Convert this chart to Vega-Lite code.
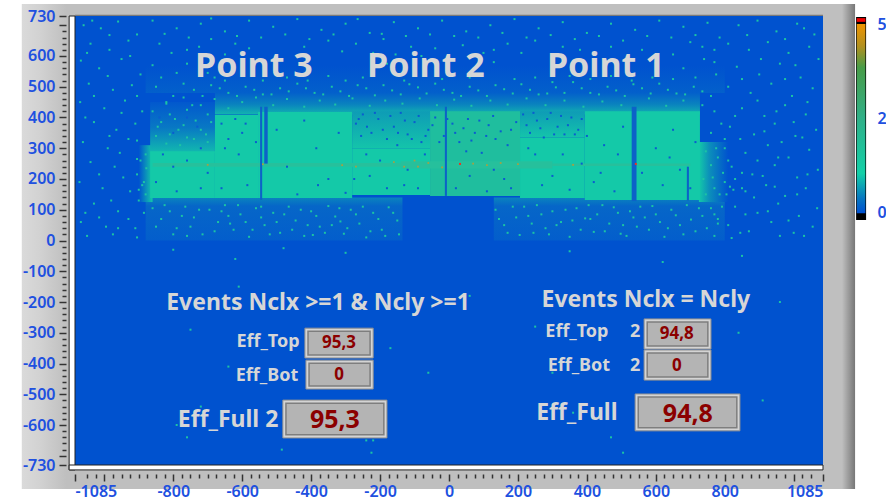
{"$schema":"https://vega.github.io/schema/vega-lite/v6.json","autosize":"none","width":748,"height":449,"padding":{"left":75,"top":16,"right":63,"bottom":35},"background":"#ffffff","view":{"stroke":null},
"encoding":{
"x":{"field":"x","type":"quantitative","title":null,"scale":{"domain":[-1085,1085],"nice":false,"zero":false},"axis":{"zindex":1,"grid":false,"domain":false,"offset":9,"labelFont":"Noto Sans","labelFontWeight":600,"labelFontSize":16,"labelColor":"#2050E0","labelPadding":2,"labelOverlap":false,"tickColor":"#333333","tickWidth":1.5,"tickSize":{"condition":{"test":"datum.value % 200 == 0 || abs(datum.value) == 1085","value":7},"value":4},"values":[-1085,-1050,-1025,-1000,-975,-950,-925,-900,-875,-850,-825,-800,-775,-750,-725,-700,-675,-650,-625,-600,-575,-550,-525,-500,-475,-450,-425,-400,-375,-350,-325,-300,-275,-250,-225,-200,-175,-150,-125,-100,-75,-50,-25,0,25,50,75,100,125,150,175,200,225,250,275,300,325,350,375,400,425,450,475,500,525,550,575,600,625,650,675,700,725,750,775,800,825,850,875,900,925,950,975,1000,1025,1050,1085],"labelExpr":"((datum.value % 200 == 0 && abs(datum.value) != 1000) || abs(datum.value) == 1085) ? datum.value : ''"}},
"y":{"field":"y","type":"quantitative","title":null,"scale":{"domain":[-730,730],"nice":false,"zero":false},"axis":{"zindex":1,"grid":false,"domain":false,"offset":9,"labelFont":"Noto Sans","labelFontWeight":600,"labelFontSize":16,"labelColor":"#2050E0","labelPadding":4,"labelOverlap":false,"tickColor":"#333333","tickWidth":1.5,"tickSize":{"condition":{"test":"datum.value % 100 == 0 || abs(datum.value) == 730","value":7},"value":4},"values":[-730,-700,-680,-660,-640,-620,-600,-580,-560,-540,-520,-500,-480,-460,-440,-420,-400,-380,-360,-340,-320,-300,-280,-260,-240,-220,-200,-180,-160,-140,-120,-100,-80,-60,-40,-20,0,20,40,60,80,100,120,140,160,180,200,220,240,260,280,300,320,340,360,380,400,420,440,460,480,500,520,540,560,580,600,620,640,660,680,700,730],"labelExpr":"((datum.value % 100 == 0 && abs(datum.value) != 700) || abs(datum.value) == 730) ? datum.value : ''"}}},
"layer":[
{"data":{"values":[{"x":-1239,"x2":1178,"y":769,"y2":-808}]},"mark":{"type":"rect","color":"#BFBFBF"},"encoding":{"x2":{"field":"x2"},"y2":{"field":"y2"}}},
{"data":{"values":[{"x":-1239,"x2":-1110,"y":769,"y2":-808}]},"mark":{"type":"rect","color":{"gradient":"linear","x1":0,"y1":0,"x2":1,"y2":0,"stops":[{"offset":0,"color":"#DADADA"},{"offset":0.4,"color":"#D2D2D2"},{"offset":1,"color":"#BFBFBF"}]}},"encoding":{"x2":{"field":"x2"},"y2":{"field":"y2"}}},
{"data":{"values":[{"x":1140,"x2":1178,"y":769,"y2":-808}]},"mark":{"type":"rect","color":{"gradient":"linear","x1":0,"y1":0,"x2":1,"y2":0,"stops":[{"offset":0,"color":"#BFBFBF"},{"offset":1,"color":"#777777"}]}},"encoding":{"x2":{"field":"x2"},"y2":{"field":"y2"}}},
{"data":{"values":[{"x":-1085,"x2":1085,"y":734,"y2":730}]},"mark":{"type":"rect","color":"#7A7A7A"},"encoding":{"x2":{"field":"x2"},"y2":{"field":"y2"}}},
{"data":{"values":[{"x":-1085,"x2":1085,"y":730,"y2":-730}]},"mark":{"type":"rect","color":"#0052CF"},"encoding":{"x2":{"field":"x2"},"y2":{"field":"y2"}}},
{"data":{"values":[{"x":-880,"x2":800,"y":570,"y2":480}]},"mark":{"type":"rect","color":{"gradient":"linear","x1":0,"y1":0,"x2":0,"y2":1,"stops":[{"offset":0,"color":"#0052CF"},{"offset":1,"color":"#0360CB"}]}},"encoding":{"x2":{"field":"x2"},"y2":{"field":"y2"}}},
{"data":{"values":[{"x":-880,"x2":-135,"y":140,"y2":0},{"x":130,"x2":800,"y":140,"y2":0}]},"mark":{"type":"rect","color":{"gradient":"linear","x1":0,"y1":0,"x2":0,"y2":1,"stops":[{"offset":0,"color":"#0A84BE"},{"offset":0.2,"color":"#0666C8"},{"offset":1,"color":"#035ECC"}]}},"encoding":{"x2":{"field":"x2"},"y2":{"field":"y2"}}},
{"data":{"values":[{"x":-900,"x2":-860,"y":310,"y2":125}]},"mark":{"type":"rect","color":{"gradient":"linear","x1":0,"y1":0,"x2":1,"y2":0,"stops":[{"offset":0,"color":"#0052CF"},{"offset":1,"color":"#14C9A8"}]}},"encoding":{"x2":{"field":"x2"},"y2":{"field":"y2"}}},
{"data":{"values":[{"x":725,"x2":810,"y":320,"y2":125}]},"mark":{"type":"rect","color":{"gradient":"linear","x1":0,"y1":0,"x2":1,"y2":0,"stops":[{"offset":0,"color":"#14C9A8"},{"offset":0.35,"color":"#0C90BA"},{"offset":1,"color":"#0052CF"}]}},"encoding":{"x2":{"field":"x2"},"y2":{"field":"y2"}}},
{"data":{"values":[{"x":-867,"x2":-679,"y":450,"y2":285}]},"mark":{"type":"rect","color":{"gradient":"linear","x1":0,"y1":0,"x2":0,"y2":1,"stops":[{"offset":0,"color":"#0258CE"},{"offset":0.5,"color":"#0878C4"},{"offset":1,"color":"#12BAAE"}]}},"encoding":{"x2":{"field":"x2"},"y2":{"field":"y2"}}},
{"data":{"values":[{"x":-679,"x2":728,"y":480,"y2":410}]},"mark":{"type":"rect","color":{"gradient":"linear","x1":0,"y1":0,"x2":0,"y2":1,"stops":[{"offset":0,"color":"#0360CB"},{"offset":0.55,"color":"#0A84BE"},{"offset":1,"color":"#12B4AF"}]}},"encoding":{"x2":{"field":"x2"},"y2":{"field":"y2"}}},
{"data":{"values":[{"x":-867,"x2":-679,"y":290,"y2":138},{"x":-679,"x2":-554,"y":408,"y2":138},{"x":-554,"x2":-281,"y":418,"y2":138},{"x":-281,"x2":-55,"y":300,"y2":148},{"x":206,"x2":394,"y":335,"y2":138},{"x":394,"x2":728,"y":420,"y2":132}]},"mark":{"type":"rect","color":"#14C9A8"},"encoding":{"x2":{"field":"x2"},"y2":{"field":"y2"}}},
{"data":{"values":[{"x":-281,"x2":-55,"y":420,"y2":300},{"x":206,"x2":394,"y":420,"y2":335}]},"mark":{"type":"rect","color":{"gradient":"linear","x1":0,"y1":0,"x2":0,"y2":1,"stops":[{"offset":0,"color":"#0E9CB6"},{"offset":1,"color":"#14C4AA"}]}},"encoding":{"x2":{"field":"x2"},"y2":{"field":"y2"}}},
{"data":{"values":[{"x":-55,"x2":206,"y":420,"y2":145}]},"mark":{"type":"rect","color":"#1FBE9E"},"encoding":{"x2":{"field":"x2"},"y2":{"field":"y2"}}},
{"data":{"values":[{"x":-860,"x2":-140,"y":252,"y2":240},{"x":-140,"x2":300,"y":258,"y2":234},{"x":300,"x2":700,"y":250,"y2":242}]},"mark":{"type":"rect","color":"#26C09C"},"encoding":{"x2":{"field":"x2"},"y2":{"field":"y2"}}},
{"data":{"values":[{"x":-1060,"y":700},{"x":-1010,"y":690},{"x":-960,"y":712},{"x":-905,"y":670},{"x":-1040,"y":640},{"x":-985,"y":620},{"x":-930,"y":650},{"x":-1068,"y":585},{"x":-1015,"y":560},{"x":-950,"y":590},{"x":-895,"y":540},{"x":-1045,"y":510},{"x":-975,"y":490},{"x":-920,"y":505},{"x":-1070,"y":450},{"x":-1000,"y":430},{"x":-940,"y":455},{"x":-890,"y":420},{"x":-1030,"y":385},{"x":-965,"y":360},{"x":-910,"y":380},{"x":-1062,"y":320},{"x":-990,"y":300},{"x":-930,"y":330},{"x":-1040,"y":255},{"x":-970,"y":240},{"x":-905,"y":265},{"x":-1072,"y":190},{"x":-1005,"y":170},{"x":-945,"y":205},{"x":-890,"y":180},{"x":-1030,"y":120},{"x":-960,"y":95},{"x":-900,"y":130},{"x":-1068,"y":60},{"x":-995,"y":45},{"x":-930,"y":70},{"x":-1050,"y":15},{"x":-975,"y":20},{"x":-905,"y":10},
{"x":-1035,"y":715},{"x":-985,"y":668},{"x":-925,"y":600},{"x":-1050,"y":610},{"x":-990,"y":535},{"x":-905,"y":470},{"x":-1030,"y":470},{"x":-950,"y":415},{"x":-1055,"y":400},{"x":-985,"y":340},{"x":-905,"y":325},{"x":-955,"y":285},{"x":-1015,"y":215},{"x":-925,"y":160},{"x":-980,"y":130},{"x":-1055,"y":90},{"x":-910,"y":40},{"x":-1015,"y":75},{"x":-960,"y":40},{"x":-885,"y":90},
{"x":840,"y":700},{"x":895,"y":715},{"x":950,"y":680},{"x":1010,"y":705},{"x":1060,"y":670},{"x":810,"y":640},{"x":870,"y":620},{"x":925,"y":645},{"x":985,"y":610},{"x":1045,"y":630},{"x":1072,"y":590},{"x":835,"y":565},{"x":900,"y":540},{"x":960,"y":575},{"x":1020,"y":530},{"x":810,"y":500},{"x":875,"y":480},{"x":935,"y":510},{"x":995,"y":470},{"x":1055,"y":495},{"x":850,"y":430},{"x":915,"y":405},{"x":975,"y":440},{"x":1035,"y":410},{"x":815,"y":370},{"x":885,"y":345},{"x":945,"y":380},{"x":1005,"y":340},{"x":1065,"y":360},{"x":800,"y":300},{"x":860,"y":285},{"x":925,"y":310},{"x":985,"y":270},{"x":1045,"y":295},{"x":820,"y":240},{"x":880,"y":215},{"x":945,"y":245},{"x":1010,"y":205},{"x":1070,"y":230},{"x":800,"y":190},{"x":860,"y":160},{"x":920,"y":180},{"x":975,"y":145},{"x":1035,"y":170},{"x":830,"y":110},{"x":895,"y":90},{"x":955,"y":120},{"x":1015,"y":80},{"x":1068,"y":105},{"x":810,"y":50},{"x":870,"y":30},{"x":935,"y":60},{"x":1000,"y":25},{"x":1055,"y":45},{"x":770,"y":15},{"x":820,"y":8},
{"x":865,"y":668},{"x":975,"y":655},{"x":1030,"y":690},{"x":905,"y":590},{"x":1005,"y":570},{"x":850,"y":525},{"x":975,"y":525},{"x":1040,"y":450},{"x":895,"y":455},{"x":830,"y":405},{"x":950,"y":420},{"x":1000,"y":385},{"x":915,"y":355},{"x":845,"y":330},{"x":965,"y":320},{"x":1025,"y":335},{"x":895,"y":260},{"x":955,"y":270},{"x":850,"y":220},{"x":1040,"y":215},{"x":910,"y":210},{"x":825,"y":165},{"x":885,"y":140},{"x":1010,"y":150},{"x":945,"y":175},{"x":860,"y":85},{"x":925,"y":95},{"x":985,"y":65},{"x":780,"y":70},{"x":845,"y":25},{"x":960,"y":15},{"x":1030,"y":15},
{"x":-860,"y":715},{"x":-790,"y":690},{"x":-720,"y":705},{"x":-650,"y":680},{"x":-580,"y":715},{"x":-510,"y":695},{"x":-440,"y":720},{"x":-370,"y":685},{"x":-300,"y":705},{"x":-230,"y":675},{"x":-160,"y":710},{"x":-90,"y":690},{"x":-20,"y":715},{"x":50,"y":680},{"x":120,"y":700},{"x":190,"y":720},{"x":260,"y":690},{"x":330,"y":710},{"x":400,"y":675},{"x":470,"y":705},{"x":540,"y":685},{"x":610,"y":715},{"x":680,"y":695},{"x":750,"y":708},
{"x":-825,"y":672},{"x":-755,"y":660},{"x":-690,"y":722},{"x":-615,"y":665},{"x":-545,"y":660},{"x":-475,"y":670},{"x":-405,"y":655},{"x":-335,"y":670},{"x":-265,"y":720},{"x":-195,"y":672},{"x":-125,"y":665},{"x":-55,"y":670},{"x":15,"y":665},{"x":85,"y":660},{"x":155,"y":675},{"x":225,"y":660},{"x":295,"y":668},{"x":365,"y":655},{"x":435,"y":665},{"x":505,"y":650},{"x":575,"y":665},{"x":645,"y":660},{"x":715,"y":668},{"x":785,"y":660},
{"x":-840,"y":640},{"x":-760,"y":620},{"x":-690,"y":655},{"x":-620,"y":640},{"x":-350,"y":650},{"x":-270,"y":640},{"x":-190,"y":655},{"x":-110,"y":630},{"x":170,"y":640},{"x":250,"y":650},{"x":330,"y":630},{"x":700,"y":645},{"x":770,"y":620},{"x":-860,"y":570},{"x":-790,"y":545},{"x":-720,"y":585},{"x":-680,"y":530},{"x":-300,"y":520},{"x":-220,"y":610},{"x":-130,"y":520},{"x":100,"y":610},{"x":190,"y":525},{"x":300,"y":515},{"x":680,"y":560},{"x":740,"y":590},{"x":775,"y":540},
{"x":-805,"y":610},{"x":-725,"y":630},{"x":-650,"y":605},{"x":-580,"y":625},{"x":-420,"y":630},{"x":-310,"y":615},{"x":-155,"y":605},{"x":-40,"y":625},{"x":40,"y":635},{"x":130,"y":620},{"x":210,"y":610},{"x":380,"y":620},{"x":470,"y":630},{"x":560,"y":620},{"x":650,"y":605},{"x":735,"y":630},{"x":-835,"y":530},{"x":-760,"y":575},{"x":-700,"y":545},{"x":-650,"y":520},{"x":-600,"y":535},{"x":-540,"y":520},{"x":-470,"y":530},{"x":-410,"y":520},{"x":-350,"y":535},{"x":-250,"y":530},{"x":-180,"y":575},{"x":-80,"y":600},{"x":-20,"y":525},{"x":60,"y":530},{"x":130,"y":580},{"x":250,"y":530},{"x":350,"y":535},{"x":410,"y":525},{"x":470,"y":535},{"x":530,"y":520},{"x":590,"y":530},{"x":650,"y":525},{"x":715,"y":530},{"x":770,"y":580},
{"x":-850,"y":500},{"x":-800,"y":470},{"x":-740,"y":490},{"x":-690,"y":505},{"x":-640,"y":480},{"x":-590,"y":500},{"x":-540,"y":475},{"x":-490,"y":495},{"x":-440,"y":510},{"x":-390,"y":480},{"x":-340,"y":500},{"x":-290,"y":470},{"x":-240,"y":495},{"x":-190,"y":505},{"x":-140,"y":475},{"x":-90,"y":498},{"x":-40,"y":510},{"x":10,"y":480},{"x":60,"y":500},{"x":110,"y":470},{"x":160,"y":492},{"x":210,"y":508},{"x":260,"y":475},{"x":310,"y":498},{"x":360,"y":515},{"x":410,"y":480},{"x":460,"y":500},{"x":510,"y":470},{"x":560,"y":495},{"x":610,"y":510},{"x":660,"y":478},{"x":710,"y":500},{"x":760,"y":470},
{"x":-770,"y":510},{"x":-715,"y":470},{"x":-665,"y":495},{"x":-615,"y":470},{"x":-565,"y":490},{"x":-515,"y":475},{"x":-465,"y":485},{"x":-415,"y":495},{"x":-365,"y":475},{"x":-315,"y":485},{"x":-265,"y":505},{"x":-215,"y":472},{"x":-165,"y":488},{"x":-115,"y":508},{"x":-65,"y":478},{"x":-15,"y":490},{"x":35,"y":470},{"x":85,"y":488},{"x":135,"y":505},{"x":185,"y":478},{"x":235,"y":490},{"x":285,"y":478},{"x":335,"y":480},{"x":385,"y":495},{"x":435,"y":475},{"x":485,"y":488},{"x":535,"y":508},{"x":585,"y":478},{"x":635,"y":490},{"x":685,"y":475},{"x":735,"y":485},
{"x":-820,"y":450},{"x":-770,"y":465},{"x":-720,"y":440},{"x":-680,"y":460},{"x":-640,"y":430},{"x":-600,"y":450},{"x":-560,"y":465},{"x":-510,"y":440},{"x":-470,"y":460},{"x":-420,"y":435},{"x":-375,"y":455},{"x":-330,"y":442},{"x":-280,"y":462},{"x":-230,"y":438},{"x":-185,"y":455},{"x":-135,"y":445},{"x":-85,"y":462},{"x":-35,"y":440},{"x":15,"y":458},{"x":65,"y":438},{"x":120,"y":455},{"x":170,"y":442},{"x":225,"y":462},{"x":280,"y":440},{"x":335,"y":455},{"x":390,"y":435},{"x":445,"y":452},{"x":500,"y":440},{"x":580,"y":462},{"x":630,"y":438},{"x":680,"y":455},{"x":735,"y":440},{"x":770,"y":420},{"x":790,"y":380},{"x":760,"y":350},{"x":800,"y":330},{"x":775,"y":300},{"x":810,"y":260},{"x":830,"y":200},{"x":805,"y":150},{"x":850,"y":170},
{"x":-860,"y":105},{"x":-835,"y":70},{"x":-810,"y":95},{"x":-790,"y":40},{"x":-765,"y":110},{"x":-740,"y":75},{"x":-715,"y":20},{"x":-695,"y":100},{"x":-670,"y":60},{"x":-650,"y":115},{"x":-625,"y":35},{"x":-605,"y":85},{"x":-580,"y":12},{"x":-560,"y":105},{"x":-535,"y":50},{"x":-510,"y":90},{"x":-490,"y":25},{"x":-465,"y":110},{"x":-445,"y":65},{"x":-420,"y":15},{"x":-400,"y":95},{"x":-375,"y":45},{"x":-350,"y":112},{"x":-330,"y":78},{"x":-305,"y":22},{"x":-285,"y":100},{"x":-260,"y":55},{"x":-240,"y":10},{"x":-220,"y":90},{"x":-195,"y":35},{"x":-175,"y":108},{"x":-150,"y":65},{"x":-145,"y":20},{"x":-760,"y":15},{"x":-545,"y":75},{"x":-395,"y":18},{"x":-315,"y":62},{"x":-640,"y":80},
{"x":-850,"y":45},{"x":-825,"y":115},{"x":-800,"y":20},{"x":-775,"y":80},{"x":-750,"y":45},{"x":-725,"y":100},{"x":-680,"y":30},{"x":-660,"y":95},{"x":-635,"y":55},{"x":-612,"y":115},{"x":-590,"y":60},{"x":-570,"y":35},{"x":-545,"y":110},{"x":-520,"y":20},{"x":-500,"y":60},{"x":-478,"y":85},{"x":-455,"y":35},{"x":-430,"y":100},{"x":-410,"y":50},{"x":-385,"y":80},{"x":-360,"y":25},{"x":-340,"y":50},{"x":-318,"y":105},{"x":-295,"y":40},{"x":-270,"y":85},{"x":-250,"y":110},{"x":-228,"y":30},{"x":-205,"y":70},{"x":-185,"y":15},{"x":-162,"y":90},
{"x":135,"y":100},{"x":160,"y":50},{"x":185,"y":110},{"x":205,"y":18},{"x":230,"y":80},{"x":255,"y":115},{"x":280,"y":40},{"x":300,"y":95},{"x":325,"y":60},{"x":350,"y":12},{"x":370,"y":105},{"x":395,"y":72},{"x":420,"y":28},{"x":445,"y":115},{"x":465,"y":55},{"x":490,"y":90},{"x":515,"y":15},{"x":535,"y":75},{"x":555,"y":110},{"x":580,"y":35},{"x":600,"y":85},{"x":625,"y":12},{"x":645,"y":100},{"x":670,"y":50},{"x":690,"y":115},{"x":715,"y":30},{"x":735,"y":80},{"x":760,"y":105},{"x":780,"y":55},{"x":245,"y":25},{"x":410,"y":70},{"x":505,"y":50},
{"x":145,"y":70},{"x":170,"y":25},{"x":195,"y":75},{"x":218,"y":110},{"x":240,"y":55},{"x":268,"y":85},{"x":290,"y":20},{"x":312,"y":50},{"x":338,"y":100},{"x":358,"y":65},{"x":382,"y":35},{"x":405,"y":115},{"x":430,"y":85},{"x":452,"y":30},{"x":478,"y":108},{"x":498,"y":22},{"x":525,"y":95},{"x":545,"y":45},{"x":568,"y":75},{"x":590,"y":112},{"x":612,"y":60},{"x":635,"y":40},{"x":658,"y":82},{"x":680,"y":20},{"x":702,"y":68},{"x":725,"y":105},{"x":748,"y":40},{"x":770,"y":85},{"x":792,"y":110},
{"x":-860,"y":420},{"x":-835,"y":385},{"x":-810,"y":410},{"x":-785,"y":360},{"x":-760,"y":425},{"x":-735,"y":390},{"x":-705,"y":345},{"x":-850,"y":340},{"x":-820,"y":315},{"x":-780,"y":310},{"x":-740,"y":330},{"x":-700,"y":410},{"x":-880,"y":280},{"x":-885,"y":190},{"x":-878,"y":235},{"x":-880,"y":150},{"x":745,"y":290},{"x":760,"y":245},{"x":738,"y":200},{"x":770,"y":170},{"x":745,"y":150},
{"x":-845,"y":370},{"x":-820,"y":445},{"x":-795,"y":395},{"x":-770,"y":375},{"x":-745,"y":440},{"x":-720,"y":360},{"x":-690,"y":385},{"x":-810,"y":345},{"x":-760,"y":335},{"x":-700,"y":320},{"x":-895,"y":260},{"x":-905,"y":215},{"x":-900,"y":165},{"x":780,"y":270},{"x":795,"y":220},{"x":765,"y":205},{"x":785,"y":150},{"x":815,"y":175},
{"x":-800,"y":-30},{"x":-620,"y":-60},{"x":-480,"y":-25},{"x":-300,"y":-40},{"x":350,"y":-35},{"x":620,"y":-70},{"x":850,"y":-50},{"x":-690,"y":-190},{"x":-750,"y":-290},{"x":-640,"y":-410},{"x":-790,"y":-600},{"x":-720,"y":-540},{"x":-760,"y":-640},{"x":-485,"y":-680},{"x":-240,"y":-650},{"x":-225,"y":-690},{"x":-220,"y":-650},{"x":-170,"y":-350},{"x":-100,"y":-200},{"x":-60,"y":-430},{"x":60,"y":-180},{"x":250,"y":-280},{"x":300,"y":-430},{"x":360,"y":-560},{"x":470,"y":-640},{"x":505,"y":-690},{"x":840,"y":-300},{"x":910,"y":-520},{"x":-610,"y":-150},{"x":-480,"y":-170},{"x":960,"y":-200}]},
"mark":{"type":"square","size":4,"color":"#1CC4A4","opacity":1}},
{"data":{"values":[{"x":-850,"y":190},{"x":-790,"y":160},{"x":-760,"y":260},{"x":-700,"y":220},{"x":-660,"y":170},{"x":-640,"y":330},{"x":-610,"y":280},{"x":-590,"y":380},{"x":-585,"y":180},{"x":-500,"y":360},{"x":-470,"y":240},{"x":-440,"y":150},{"x":-420,"y":390},{"x":-385,"y":300},{"x":-350,"y":200},{"x":-320,"y":350},{"x":-300,"y":155},{"x":-255,"y":340},{"x":-230,"y":210},{"x":-200,"y":260},{"x":-180,"y":170},{"x":-150,"y":310},{"x":-120,"y":230},{"x":-90,"y":170},{"x":-70,"y":280},
{"x":-270,"y":380},{"x":-250,"y":410},{"x":-225,"y":350},{"x":-205,"y":395},{"x":-180,"y":330},{"x":-160,"y":370},{"x":-140,"y":415},{"x":-120,"y":345},{"x":-100,"y":385},{"x":-80,"y":320},{"x":-60,"y":360},{"x":-40,"y":400},{"x":-15,"y":340},{"x":10,"y":380},{"x":30,"y":320},{"x":55,"y":395},{"x":75,"y":350},{"x":95,"y":285},{"x":115,"y":375},{"x":135,"y":330},{"x":160,"y":200},{"x":180,"y":360},{"x":215,"y":410},{"x":235,"y":350},{"x":255,"y":390},{"x":275,"y":335},{"x":295,"y":415},{"x":315,"y":370},{"x":335,"y":345},{"x":355,"y":400},{"x":375,"y":360},{"x":20,"y":170},{"x":60,"y":210},{"x":110,"y":160},
{"x":-262,"y":395},{"x":-238,"y":370},{"x":-215,"y":415},{"x":-192,"y":360},{"x":-170,"y":405},{"x":-148,"y":350},{"x":-128,"y":390},{"x":-108,"y":330},{"x":-88,"y":405},{"x":-68,"y":340},{"x":-48,"y":375},{"x":-28,"y":320},{"x":-5,"y":395},{"x":18,"y":350},{"x":42,"y":365},{"x":65,"y":325},{"x":88,"y":390},{"x":108,"y":340},{"x":128,"y":405},{"x":150,"y":355},{"x":170,"y":310},{"x":195,"y":385},{"x":225,"y":375},{"x":245,"y":415},{"x":265,"y":365},{"x":285,"y":395},{"x":305,"y":345},{"x":325,"y":405},{"x":345,"y":375},{"x":365,"y":345},{"x":385,"y":395},
{"x":250,"y":280},{"x":300,"y":210},{"x":350,"y":165},{"x":385,"y":250},{"x":420,"y":190},{"x":450,"y":310},{"x":480,"y":160},{"x":505,"y":370},{"x":600,"y":300},{"x":620,"y":180},{"x":650,"y":360},{"x":670,"y":230},{"x":700,"y":170},{"x":715,"y":320},{"x":-830,"y":280},{"x":-720,"y":300},{"x":-660,"y":380},{"x":-620,"y":395},{"x":-760,"y":400},{"x":-800,"y":350},{"x":-840,"y":400},{"x":-730,"y":370},
{"x":-600,"y":350},{"x":-650,"y":300},{"x":-560,"y":320},{"x":-380,"y":180},{"x":-240,"y":280},{"x":-275,"y":200},{"x":-130,"y":180},{"x":50,"y":290},{"x":130,"y":230},{"x":180,"y":170},{"x":230,"y":300},{"x":270,"y":180},{"x":330,"y":280},{"x":400,"y":340},{"x":440,"y":220},{"x":490,"y":280},{"x":560,"y":220},{"x":640,"y":270},{"x":-800,"y":240},{"x":-720,"y":170}]},
"mark":{"type":"square","size":4,"color":"#0A5CD0","opacity":1}},
{"data":{"values":[{"x":-548,"x2":-542,"y":435,"y2":132},{"x":-536,"x2":-526,"y":435,"y2":250},{"x":-12,"x2":-6,"y":435,"y2":145},{"x":530,"x2":544,"y":435,"y2":128},{"x":690,"x2":696,"y":240,"y2":130}]},"mark":{"type":"rect","color":"#0C62C8"},"encoding":{"x2":{"field":"x2"},"y2":{"field":"y2"}}},
{"data":{"values":[{"x":-540,"y":248},{"x":-90,"y":240},{"x":-60,"y":252},{"x":-20,"y":238},{"x":-310,"y":245},{"x":-270,"y":240},{"x":70,"y":250},{"x":110,"y":245},{"x":150,"y":252},{"x":-160,"y":255},{"x":-130,"y":240},{"x":-700,"y":246},{"x":200,"y":248},{"x":360,"y":246},{"x":-100,"y":260}]},"mark":{"type":"square","size":3,"color":"#A8A040","opacity":1}},
{"data":{"values":[{"x":32,"y":249},{"x":542,"y":249}]},"mark":{"type":"square","size":4,"color":"#F03020","opacity":1}},
{"data":{"values":[{"x":-1102,"x2":-1085,"y":730,"y2":-746},{"x":-1102,"x2":1085,"y":-730,"y2":-746}]},"mark":{"type":"rect","color":"#FFFFFF","stroke":"#222222","strokeWidth":1},"encoding":{"x2":{"field":"x2"},"y2":{"field":"y2"}}},
{"data":{"values":[{"x":1181,"x2":1210,"y":727,"y2":67}]},"mark":{"type":"rect","color":"#000000"},"encoding":{"x2":{"field":"x2"},"y2":{"field":"y2"}}},
{"data":{"values":[{"x":1183,"x2":1208,"y":723,"y2":711}]},"mark":{"type":"rect","color":"#F00000"},"encoding":{"x2":{"field":"x2"},"y2":{"field":"y2"}}},
{"data":{"values":[{"x":1183,"x2":1208,"y":704,"y2":89}]},"mark":{"type":"rect","color":{"gradient":"linear","x1":0,"y1":0,"x2":0,"y2":1,"stops":[{"offset":0,"color":"#F09400"},{"offset":0.12,"color":"#B09020"},{"offset":0.23,"color":"#489C48"},{"offset":0.5,"color":"#30B088"},{"offset":0.79,"color":"#14D0A8"},{"offset":0.92,"color":"#0878C0"},{"offset":1,"color":"#0050D0"}]}},"encoding":{"x2":{"field":"x2"},"y2":{"field":"y2"}}},
{"data":{"values":[{"y":677},{"y":653},{"y":630},{"y":606},{"y":583},{"y":559},{"y":536},{"y":512},{"y":489},{"y":465},{"y":442},{"y":418},{"y":371},{"y":348},{"y":324},{"y":301},{"y":277},{"y":254},{"y":230},{"y":207},{"y":183},{"y":160},{"y":136},{"y":113}]},"mark":{"type":"rule","color":"#333333","strokeWidth":1.5},"encoding":{"x":{"datum":1221},"x2":{"datum":1233}}},
{"data":{"values":[{"y":700},{"y":395},{"y":89}]},"mark":{"type":"rule","color":"#333333","strokeWidth":1.5},"encoding":{"x":{"datum":1215},"x2":{"datum":1238}}},
{"data":{"values":[{"x":1243,"y":700,"t":"5"},{"x":1243,"y":395,"t":"2"},{"x":1243,"y":89,"t":"0"}]},"mark":{"type":"text","font":"Noto Sans","fontWeight":600,"fontSize":16,"color":"#2050E0","align":"left","baseline":"middle"},"encoding":{"text":{"field":"t"}}},
{"data":{"values":[{"x":-418,"x2":-220,"y":-285,"y2":-382},{"x":-415,"x2":-220,"y":-389,"y2":-483},{"x":-482,"x2":-180,"y":-519,"y2":-642},{"x":566,"x2":760,"y":-255,"y2":-353},{"x":566,"x2":760,"y":-356,"y2":-454},{"x":540,"x2":844,"y":-499,"y2":-619}]},"mark":{"type":"rect","color":"#D4D4D4","stroke":"#909090","strokeWidth":1},"encoding":{"x2":{"field":"x2"},"y2":{"field":"y2"}}},
{"data":{"values":[{"x":-409,"x2":-229,"y":-295,"y2":-372},{"x":-406,"x2":-229,"y":-399,"y2":-473},{"x":-473,"x2":-189,"y":-529,"y2":-632},{"x":575,"x2":751,"y":-265,"y2":-343},{"x":575,"x2":751,"y":-366,"y2":-444},{"x":549,"x2":835,"y":-509,"y2":-609}]},"mark":{"type":"rect","color":"#B4B4B4","stroke":"#7E7E7E","strokeWidth":1.5},"encoding":{"x2":{"field":"x2"},"y2":{"field":"y2"}}},
{"data":{"values":[{"x":-566,"y":564,"t":"Point 3"},{"x":-67,"y":564,"t":"Point 2"},{"x":455,"y":564,"t":"Point 1"}]},"mark":{"type":"text","font":"Noto Sans","fontWeight":"bold","fontSize":34,"color":"#D6D6D6","baseline":"middle"},"encoding":{"text":{"field":"t"}}},
{"data":{"values":[{"x":-380,"y":-203,"t":"Events Nclx >=1 & Ncly >=1"},{"x":571,"y":-193,"t":"Events Nclx = Ncly"}]},"mark":{"type":"text","font":"Noto Sans","fontWeight":"bold","fontSize":23,"color":"#D6D6D6","baseline":"middle"},"encoding":{"text":{"field":"t"}}},
{"data":{"values":[{"x":-525,"y":-330,"t":"Eff_Top"},{"x":-528,"y":-441,"t":"Eff_Bot"},{"x":371,"y":-298,"t":"Eff_Top"},{"x":377,"y":-408,"t":"Eff_Bot"},{"x":540,"y":-298,"t":"2"},{"x":540,"y":-408,"t":"2"}]},"mark":{"type":"text","font":"Noto Sans","fontWeight":"bold","fontSize":18,"color":"#D6D6D6","baseline":"middle"},"encoding":{"text":{"field":"t"}}},
{"data":{"values":[{"x":-641,"y":-584,"t":"Eff_Full 2"},{"x":371,"y":-561,"t":"Eff_Full"}]},"mark":{"type":"text","font":"Noto Sans","fontWeight":"bold","fontSize":23,"color":"#D6D6D6","baseline":"middle"},"encoding":{"text":{"field":"t"}}},
{"data":{"values":[{"x":-319,"y":-333,"t":"95,3"},{"x":-319,"y":-437,"t":"0"},{"x":661,"y":-304,"t":"94,8"},{"x":661,"y":-408,"t":"0"}]},"mark":{"type":"text","font":"Noto Sans","fontWeight":"bold","fontSize":17,"color":"#8B0000","baseline":"middle"},"encoding":{"text":{"field":"t"}}},
{"data":{"values":[{"x":-331,"y":-584,"t":"95,3"},{"x":693,"y":-564,"t":"94,8"}]},"mark":{"type":"text","font":"Noto Sans","fontWeight":"bold","fontSize":25,"color":"#8B0000","baseline":"middle"},"encoding":{"text":{"field":"t"}}}
]}
